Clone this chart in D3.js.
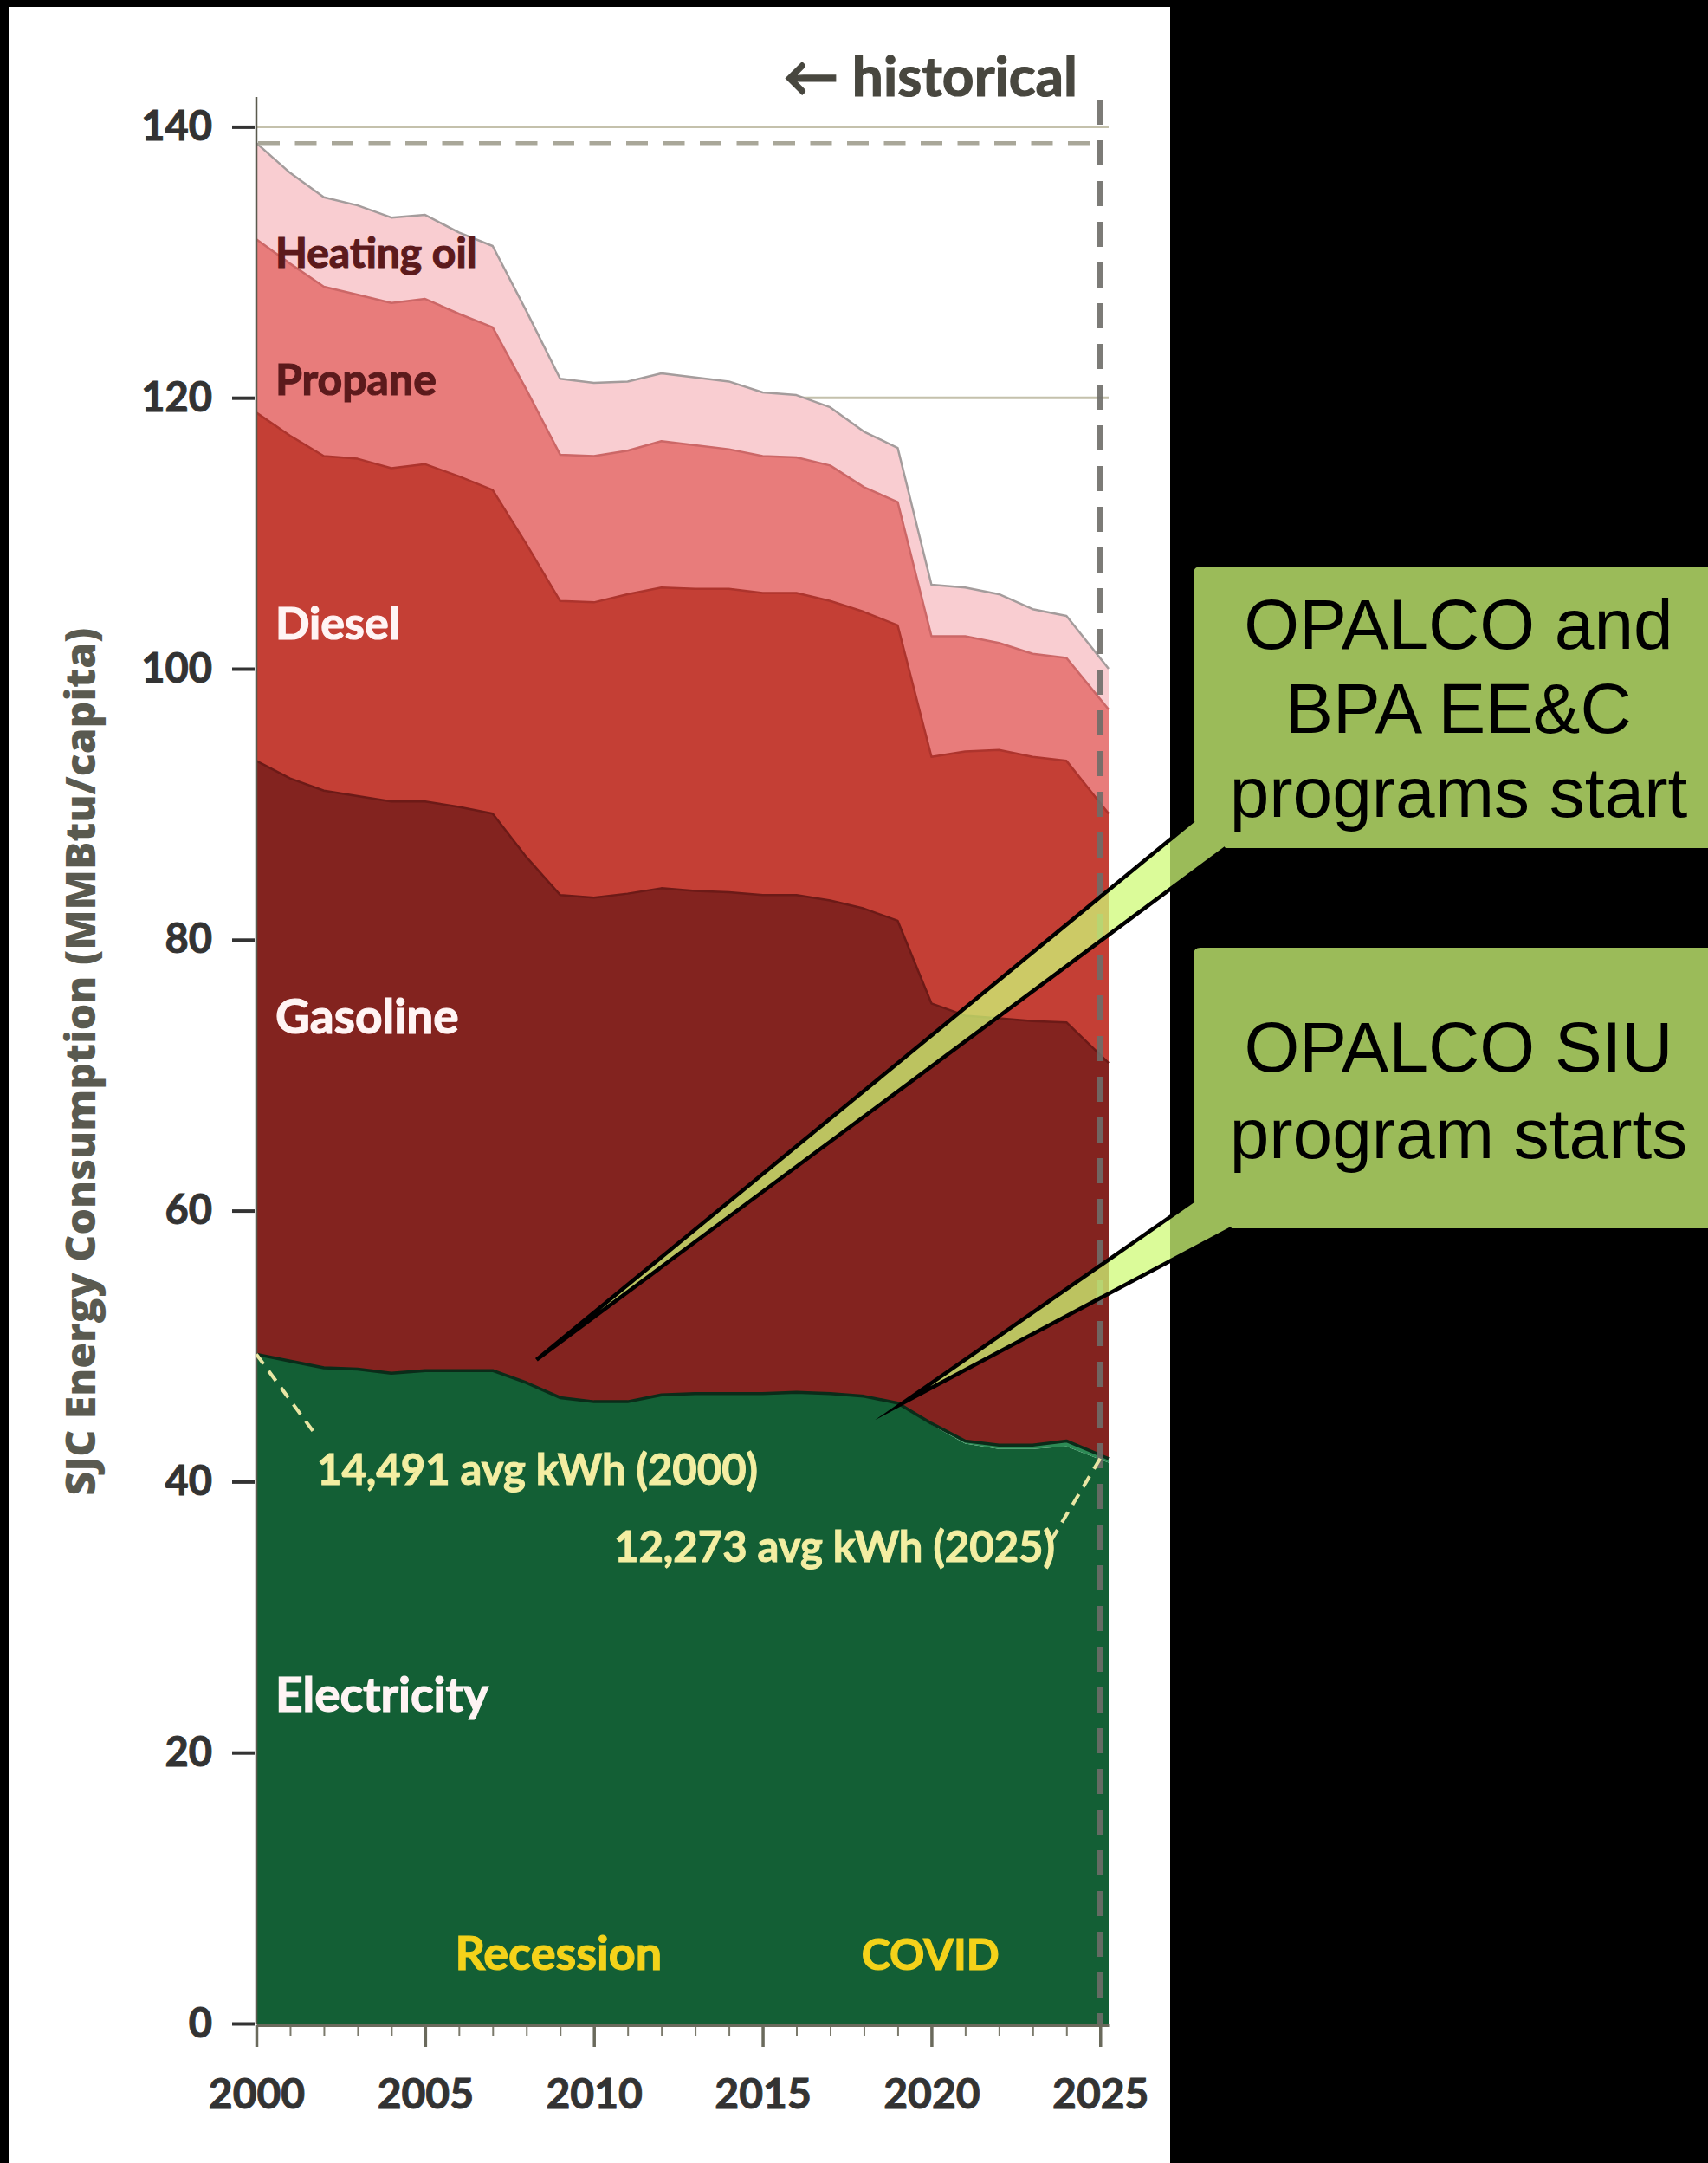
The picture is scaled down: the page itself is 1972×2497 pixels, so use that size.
<!DOCTYPE html>
<html>
<head>
<meta charset="utf-8">
<script src="https://cdn.jsdelivr.net/npm/d3@7"></script>
<style>
    body { margin: 0; background: #000; }
    svg { display: block; }
</style>
</head>
<body>
<svg id="chart" width="1972" height="2497"></svg>
<script>
// values, MMBtu per capita
var years = d3.range(2000, 2026);
var electricity = [49.4, 48.9, 48.4, 48.3, 48.0, 48.2, 48.2, 48.2, 47.3, 46.2, 45.9, 45.9, 46.4,
    46.5, 46.5, 46.5, 46.6, 46.5, 46.3, 45.8, 44.2, 42.8, 42.4, 42.4, 42.6, 41.4];
var electricityOther = [0, 0, 0, 0, 0, 0, 0, 0, 0, 0, 0, 0, 0,
    0, 0, 0, 0, 0, 0, 0, 0.1, 0.2, 0.3, 0.3, 0.4, 0.3];
var gasoline = [43.8, 43.0, 42.6, 42.3, 42.2, 42.0, 41.6, 41.1, 38.8, 37.1, 37.2, 37.5, 37.4,
    37.1, 37.0, 36.8, 36.7, 36.4, 36.0, 35.6, 31.0, 31.4, 31.5, 31.3, 30.9, 29.2];
var diesel = [25.7, 25.3, 24.7, 24.9, 24.6, 24.9, 24.4, 23.9, 23.1, 21.7, 21.8, 22.1, 22.2,
    22.3, 22.4, 22.3, 22.3, 22.1, 21.9, 21.8, 18.2, 19.5, 19.8, 19.5, 19.3, 18.4];
var propane = [12.8, 12.7, 12.5, 12.1, 12.2, 12.2, 12.0, 12.0, 11.4, 10.8, 10.8, 10.6, 10.8,
    10.6, 10.3, 10.1, 10.0, 10.0, 9.2, 9.1, 8.9, 8.5, 7.9, 7.6, 7.6, 7.7];
var heatingOil = [7.1, 6.7, 6.6, 6.6, 6.3, 6.2, 6.0, 6.0, 5.8, 5.6, 5.4, 5.1, 5.0,
    5.0, 5.0, 4.7, 4.6, 4.3, 4.1, 4.0, 3.8, 3.6, 3.6, 3.3, 3.1, 3.0];

var yTicks = [0, 20, 40, 60, 80, 100, 120, 140];
var xTicks = [2000, 2005, 2010, 2015, 2020, 2025];

var keys = ["electricity", "electricityOther", "gasoline", "diesel", "propane", "heatingOil"];
var fills = {
    electricity: "#135f35", electricityOther: "#2d8a55", gasoline: "#83231f",
    diesel: "#c43f35", propane: "#e87c7b", heatingOil: "#f9cdd1"
};
var edges = {
    electricity: "none", electricityOther: "#0a2c19", gasoline: "#6c1a17",
    diesel: "#ad342d", propane: "#cc6767", heatingOil: "#a49c9c"
};

var rows = years.map(function (yr, i) {
    return {
        year: yr, electricity: electricity[i], electricityOther: electricityOther[i],
        gasoline: gasoline[i], diesel: diesel[i], propane: propane[i], heatingOil: heatingOil[i]
    };
});
var series = d3.stack().keys(keys)(rows);

var svg = d3.select("#chart");
var lastYear = years[years.length - 1];

var x = d3.scaleLinear().domain([2000, 2025.25]).range([296, 1280]);
var y = d3.scaleLinear().domain([0, 140]).range([2336, 146.4]);

// last sample runs to the plot edge
function px(yr) {
    return yr === lastYear ? x.range()[1] : x(yr);
}

svg.append("rect").attr("width", 1972).attr("height", 2497).attr("fill", "#000");
svg.append("rect").attr("x", 10).attr("y", 8).attr("width", 1341).attr("height", 2489).attr("fill", "#fff");

// gridlines
svg.append("g").selectAll("line")
    .data(yTicks.filter(function (d) { return d > 0; }))
    .enter().append("line")
    .attr("x1", x(2000)).attr("x2", x.range()[1])
    .attr("y1", function (d) { return y(d); })
    .attr("y2", function (d) { return y(d); })
    .attr("stroke", "#c4c1ac")
    .attr("stroke-width", 3);

var area = d3.area()
    .x(function (d) { return px(d.data.year); })
    .y0(function (d) { return y(d[0]); })
    .y1(function (d) { return y(d[1]); });

var topLine = d3.line()
    .x(function (d) { return px(d.data.year); })
    .y(function (d) { return y(d[1]); });

svg.append("g").selectAll("path")
    .data(series)
    .enter().append("path")
    .attr("d", area)
    .attr("fill", function (d) { return fills[d.key]; });

svg.append("g").selectAll("path")
    .data(series.filter(function (s) { return edges[s.key] !== "none"; }))
    .enter().append("path")
    .attr("d", topLine)
    .attr("fill", "none")
    .attr("stroke", function (d) { return edges[d.key]; })
    .attr("stroke-width", function (d) { return d.key === "electricityOther" ? 3.5 : 2.5; })
    .attr("stroke-linejoin", "round");

// starting level, dashed
var startTop = series[series.length - 1][0][1];
svg.append("line")
    .attr("x1", x(2000)).attr("x2", x(2025))
    .attr("y1", y(startTop)).attr("y2", y(startTop))
    .attr("stroke", "#a9a799")
    .attr("stroke-width", 4.5)
    .attr("stroke-dasharray", "25,17.5")
    .attr("stroke-dashoffset", -2);

svg.append("line")
    .attr("x1", x(2025)).attr("x2", x(2025))
    .attr("y1", y(142)).attr("y2", y(0))
    .attr("stroke", "#6e6d68")
    .attr("stroke-opacity", 0.9)
    .attr("stroke-width", 7)
    .attr("stroke-dasharray", "29,18");

// axes
var yAxis = svg.append("g")
    .attr("transform", "translate(294,0)")
    .call(d3.axisLeft(y).tickValues(yTicks).tickSize(26).tickPadding(23).tickSizeOuter(0));
yAxis.select(".domain").remove();
yAxis.selectAll(".tick line").attr("stroke", "#333").attr("stroke-width", 4);
yAxis.selectAll(".tick text")
    .attr("fill", "#333")
    .attr("stroke", "#333").attr("stroke-width", 1)
    .style("font", "700 47px Lato");

svg.append("line")
    .attr("x1", x(2000)).attr("x2", x(2000))
    .attr("y1", y(142.2)).attr("y2", y(0))
    .attr("stroke", "#5a5a4e").attr("stroke-width", 2.5);

var xMinor = svg.append("g")
    .attr("transform", "translate(0," + (y(0) + 2) + ")")
    .call(d3.axisBottom(x).tickValues(years).tickSize(12).tickFormat(""));
xMinor.select(".domain").remove();
xMinor.selectAll(".tick line").attr("stroke", "#7b7a6c").attr("stroke-width", 2);

var xAxis = svg.append("g")
    .attr("transform", "translate(0," + (y(0) + 2) + ")")
    .call(d3.axisBottom(x).tickValues(xTicks).tickSize(25).tickPadding(37)
        .tickFormat(d3.format("d")).tickSizeOuter(0));
xAxis.select(".domain").attr("stroke", "#6a6a5c").attr("stroke-width", 3);
xAxis.selectAll(".tick line").attr("stroke", "#6a6a5c").attr("stroke-width", 3.5);
xAxis.selectAll(".tick text")
    .attr("fill", "#333")
    .attr("stroke", "#333").attr("stroke-width", 1)
    .style("font", "700 48px Lato");

svg.append("text")
    .attr("transform", "translate(110," + y(71) + ") rotate(-90)")
    .attr("text-anchor", "middle")
    .attr("fill", "#5a5a50")
    .style("font", "800 48px 'Open Sans'")
    .text("SJC Energy Consumption (MMBtu/capita)");

svg.append("text")
    .attr("x", 1244).attr("y", 111)
    .attr("text-anchor", "end")
    .attr("fill", "#48473f")
    .attr("stroke", "#48473f").attr("stroke-width", 1.2)
    .style("font", "700 64px Lato")
    .text("\u2190 historical");

// series labels
var labels = [
    {text: "Heating oil", yv: 129.6, color: "#5c1a1c", size: 48},
    {text: "Propane", yv: 120.2, color: "#5c1a1c", size: 50},
    {text: "Diesel", yv: 102.2, color: "#fff4f4", size: 52},
    {text: "Gasoline", yv: 73.1, color: "#fff4f4", size: 55},
    {text: "Electricity", yv: 23.0, color: "#fff4f4", size: 55}
];
svg.append("g").selectAll("text")
    .data(labels)
    .enter().append("text")
    .attr("x", 318)
    .attr("y", function (d) { return y(d.yv); })
    .attr("fill", function (d) { return d.color; })
    .attr("stroke", function (d) { return d.color; })
    .attr("stroke-width", 1.2)
    .style("font", function (d) { return "700 " + d.size + "px Lato"; })
    .text(function (d) { return d.text; });

// kWh notes
var kwhNotes = [
    {text: "14,491 avg kWh (2000)", tx: 366, yv: 39.8, anchor: "start", from: 2000, idx: 0, ex: 364, ev: 43.5},
    {text: "12,273 avg kWh (2025)", tx: 1218, yv: 34.1, anchor: "end", from: 2025, idx: years.length - 1, ex: 1214, ev: 35.7}
];
var elecTop = series[1];
svg.append("g").selectAll("line")
    .data(kwhNotes)
    .enter().append("line")
    .attr("x1", function (d) { return x(d.from); })
    .attr("y1", function (d) { return y(elecTop[d.idx][1]); })
    .attr("x2", function (d) { return d.ex; })
    .attr("y2", function (d) { return y(d.ev); })
    .attr("stroke", "#e9e6a4")
    .attr("stroke-width", 4)
    .attr("stroke-dasharray", "14,10");
svg.append("g").selectAll("text")
    .data(kwhNotes)
    .enter().append("text")
    .attr("x", function (d) { return d.tx; })
    .attr("y", function (d) { return y(d.yv); })
    .attr("text-anchor", function (d) { return d.anchor; })
    .attr("fill", "#f3eea2")
    .attr("stroke", "#f3eea2").attr("stroke-width", 1)
    .style("font", "700 49px Lato")
    .text(function (d) { return d.text; });

var events = [{text: "Recession", year: 2008.95, size: 54}, {text: "COVID", year: 2019.97, size: 50}];
svg.append("g").selectAll("text")
    .data(events)
    .enter().append("text")
    .attr("x", function (d) { return x(d.year); })
    .attr("y", y(3.94))
    .attr("text-anchor", "middle")
    .attr("fill", "#f4d21a")
    .attr("stroke", "#f4d21a").attr("stroke-width", 1.2)
    .style("font", function (d) { return "700 " + d.size + "px Lato"; })
    .text(function (d) { return d.text; });

// callouts: box and pointer drawn as one path so the fill is not doubled
var callFill = "rgba(207,249,119,0.75)";
var boxLeft = 1378, boxRight = 2020, r = 8;
var callouts = [
    {lines: ["OPALCO and", "BPA EE&C", "programs start"], top: 654, bottom: 979,
        tipYear: 2008.3, tipV: 49.0, a: [1378, 947], b: [1415, 979], base: 749, step: 97},
    {lines: ["OPALCO SIU", "program starts"], top: 1094, bottom: 1418,
        tipYear: 2019.15, tipV: 45.8, a: [1378, 1386], b: [1422, 1418], base: 1237, step: 100}
];
callouts.forEach(function (c) {
    var tip = [x(c.tipYear), y(c.tipV)];
    var p = d3.path();
    p.moveTo(boxLeft + r, c.top);
    p.lineTo(boxRight, c.top);
    p.lineTo(boxRight, c.bottom);
    p.lineTo(c.b[0], c.bottom);
    p.lineTo(tip[0], tip[1]);
    p.lineTo(c.a[0], c.a[1]);
    p.lineTo(boxLeft, c.top + r);
    p.quadraticCurveTo(boxLeft, c.top, boxLeft + r, c.top);
    p.closePath();
    svg.append("path")
        .attr("d", p.toString())
        .attr("fill", callFill);
    svg.append("path")
        .attr("d", "M" + c.a + "L" + tip + "L" + c.b)
        .attr("fill", "none")
        .attr("stroke", "#000")
        .attr("stroke-width", 4.5)
        .attr("stroke-linejoin", "miter")
        .attr("stroke-miterlimit", 30);
    svg.append("g").selectAll("text")
        .data(c.lines)
        .enter().append("text")
        .attr("x", 1684)
        .attr("y", function (d, i) { return c.base + i * c.step; })
        .attr("text-anchor", "middle")
        .attr("fill", "#000")
        .style("font", "400 82px 'Liberation Sans'")
        .text(function (d) { return d; });
});
</script>
</body>
</html>
